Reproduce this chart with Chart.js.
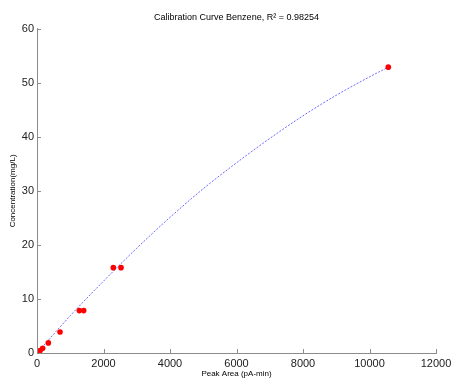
<!DOCTYPE html>
<html>
<head>
<meta charset="utf-8">
<script src="https://cdn.jsdelivr.net/npm/chart.js@4/dist/chart.umd.min.js"></script>
<style>
  html, body { margin: 0; padding: 0; background: #fff; }
  #wrap { width: 451px; height: 379px; }
</style>
</head>
<body>
<div id="wrap"><canvas id="c" width="451" height="379"></canvas></div>
<script>
// Calibration standards: peak area (pA-min) vs. concentration (mg/L)
const peakArea      = [30, 95, 170, 341, 692, 1273, 1405, 2295, 2527, 10565];
const concentration = [0.1, 0.45, 0.88, 1.87, 3.9, 7.85, 7.85, 15.8, 15.8, 52.9];

// Fitted calibration curve, sampled along peak area
const fitArea = [0, 1000, 2000, 3000, 4000, 5000, 6000, 7000, 8000, 9000, 10000, 10565];
const fitConc = [0, 6.9, 13.3, 19.4, 25.1, 30.4, 35.2, 39.7, 43.9, 47.7, 51.1, 52.9];

const xTicks = [0, 2000, 4000, 6000, 8000, 10000, 12000];
const yTicks = [0, 10, 20, 30, 40, 50, 60];

const titleText = 'Calibration Curve Benzene, R\u00B2 = 0.98254';
const xTitle = 'Peak Area (pA-min)';
const yTitle = 'Concentration(mg/L)';

const FONT = '"Liberation Sans", Arial, Helvetica, sans-serif';
const AXIS_GRAY = '#8c8c8c';

// Short tick marks pointing into the plot area
const innerTicks = {
  id: 'innerTicks',
  afterDraw(chart) {
    const { ctx, chartArea: a, scales: { x, y } } = chart;
    ctx.save();
    ctx.strokeStyle = AXIS_GRAY;
    ctx.lineWidth = 1;
    ctx.beginPath();
    x.ticks.forEach(t => {
      const px = Math.round(x.getPixelForValue(t.value)) + 0.5;
      ctx.moveTo(px, a.bottom);
      ctx.lineTo(px, a.bottom - 4);
    });
    y.ticks.forEach(t => {
      const py = Math.round(y.getPixelForValue(t.value)) + 0.5;
      ctx.moveTo(a.left, py);
      ctx.lineTo(a.left + 4, py);
    });
    ctx.stroke();
    ctx.restore();
  }
};

new Chart(document.getElementById('c'), {
  type: 'scatter',
  data: {
    datasets: [
      {
        label: 'Standards',
        data: peakArea.map((v, i) => ({ x: v, y: concentration[i] })),
        backgroundColor: '#ff0000',
        borderColor: '#ff0000',
        pointRadius: 2.8,
        pointHoverRadius: 2.8,
        borderWidth: 0,
        order: 0
      },
      {
        label: 'Fit',
        data: fitArea.map((v, i) => ({ x: v, y: fitConc[i] })),
        showLine: true,
        cubicInterpolationMode: 'monotone',
        borderColor: 'rgba(70,70,255,0.8)',
        borderWidth: 1,
        borderDash: [2, 1.5],
        pointRadius: 0,
        fill: false,
        order: 1
      }
    ]
  },
  options: {
    responsive: false,
    devicePixelRatio: 1,
    animation: false,
    layout: { padding: { left: 0, right: 15, top: 0, bottom: 0 } },
    plugins: {
      legend: { display: false },
      tooltip: { enabled: false },
      title: {
        display: true,
        text: titleText,
        fullSize: false,
        color: '#000',
        font: { family: FONT, size: 9, weight: 'normal' },
        padding: { top: 12, bottom: 6 }
      }
    },
    scales: {
      x: {
        type: 'linear',
        min: 0,
        max: 12000,
        afterBuildTicks: s => { s.ticks = xTicks.map(v => ({ value: v })); },
        afterFit: s => { s.height = 26; s.paddingLeft = 0; s.paddingRight = 0; },
        ticks: {
          color: '#222',
          font: { family: FONT, size: 11 },
          padding: 4,
          maxRotation: 0,
          callback: v => String(v)
        },
        grid: { display: true, drawOnChartArea: false, drawTicks: false },
        border: { color: AXIS_GRAY, width: 1 },
        title: {
          display: true,
          text: xTitle,
          color: '#000',
          font: { family: FONT, size: 8 },
          padding: { top: 0, bottom: 0 }
        }
      },
      y: {
        type: 'linear',
        min: 0,
        max: 60,
        afterBuildTicks: s => { s.ticks = yTicks.map(v => ({ value: v })); },
        afterFit: s => { s.width = 37; s.paddingTop = 0; s.paddingBottom = 0; },
        ticks: {
          color: '#222',
          font: { family: FONT, size: 11 },
          padding: 3,
          callback: v => String(v)
        },
        grid: { display: true, drawOnChartArea: false, drawTicks: false },
        border: { color: AXIS_GRAY, width: 1 },
        title: {
          display: true,
          text: yTitle,
          color: '#000',
          font: { family: FONT, size: 8 },
          padding: { top: 8, bottom: 0 }
        }
      }
    }
  },
  plugins: [innerTicks]
});
</script>
</body>
</html>
